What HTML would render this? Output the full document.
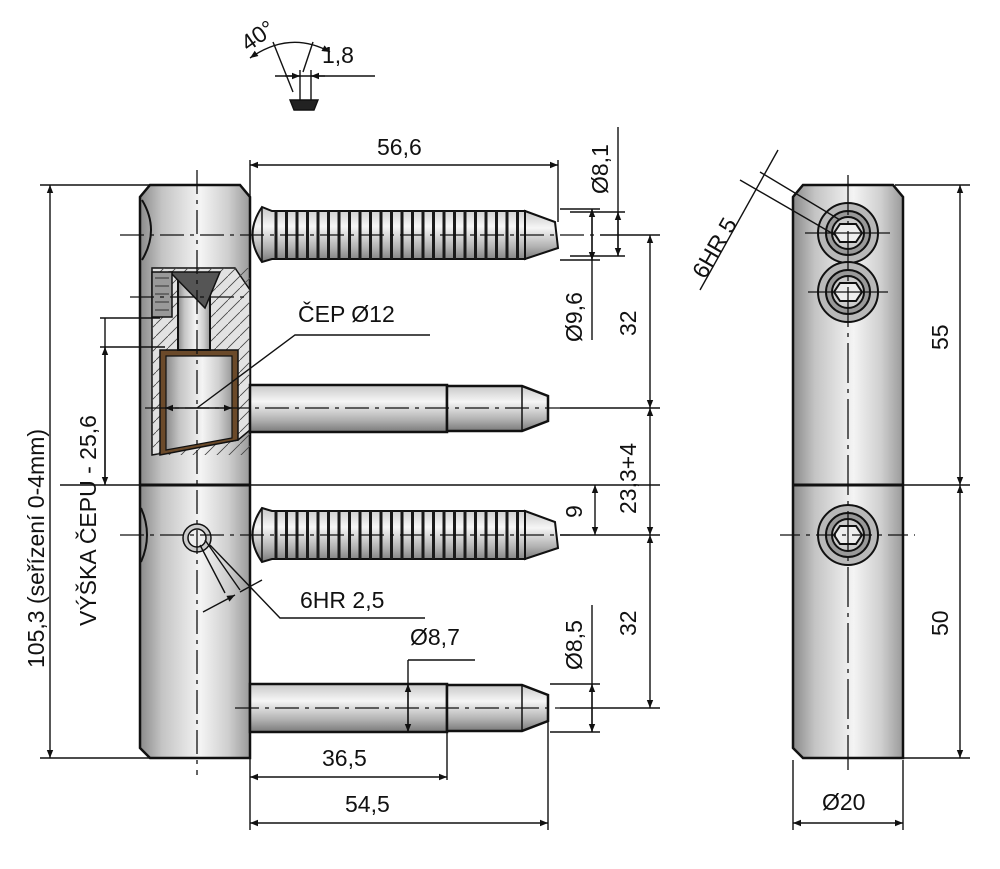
<!DOCTYPE html>
<html><head><meta charset="utf-8"><style>
html,body{margin:0;padding:0;background:#fff}
svg{display:block}
text{font-family:"Liberation Sans",sans-serif;fill:#111}
</style></head><body>
<svg width="1000" height="869" viewBox="0 0 1000 869" xmlns="http://www.w3.org/2000/svg">
<defs>
<linearGradient id="bh" x1="0" x2="1" y1="0" y2="0">
<stop offset="0" stop-color="#8a8a8a"/><stop offset="0.2" stop-color="#c4c4c4"/><stop offset="0.55" stop-color="#f4f4f4"/><stop offset="0.8" stop-color="#cfcfcf"/><stop offset="1" stop-color="#9a9a9a"/>
</linearGradient>
<linearGradient id="pv" x1="0" x2="0" y1="0" y2="1">
<stop offset="0" stop-color="#c8c8c8"/><stop offset="0.35" stop-color="#f6f6f6"/><stop offset="0.75" stop-color="#b0b0b0"/><stop offset="1" stop-color="#7a7a7a"/>
</linearGradient>
<pattern id="thr" width="10.5" height="869" patternUnits="userSpaceOnUse">
<path d="M3 0 L3 869" stroke="#1a1a1a" stroke-width="3"/>
</pattern>
<pattern id="hatch" width="12" height="12" patternUnits="userSpaceOnUse">
<path d="M0 12 L12 0" stroke="#444" stroke-width="0.8"/>
</pattern>
<marker id="a" viewBox="0 0 10 10" refX="10" refY="5" markerWidth="11" markerHeight="8" orient="auto-start-reverse" markerUnits="userSpaceOnUse"><path d="M0 1 L10 5 L0 9z" fill="#111"/></marker>
</defs>
<g stroke="#111" fill="none">

<!-- LEFT BODY -->
<path d="M150 185 L240 185 L250 197 L250 758 L150 758 L140 748 L140 197 Z" fill="url(#bh)" stroke-width="2.5"/>
<line x1="140" y1="485" x2="250" y2="485" stroke-width="3"/>
<path d="M142 200 Q160 230 142 260" stroke-width="2"/>
<path d="M141 508 Q153 535 141 562" stroke-width="2"/>
<!-- section cut -->
<path d="M152 268 L235 268 L250 290 L250 430 L238 440 L152 455 Z" fill="#e2e2e2" stroke-width="1.5"/>
<rect x="152" y="268" width="98" height="187" fill="url(#hatch)" stroke="none"/>
<path d="M160 350 L238 350 L238 440 L160 455 Z" fill="#6b4a2a" stroke-width="1.5"/>
<path d="M166 356 L232 356 L232 438 L166 450 Z" fill="url(#bh)" stroke-width="1.2"/>
<rect x="178" y="275" width="32" height="75" fill="url(#bh)" stroke-width="2"/>
<path d="M170 272 L220 272 L205 308 Z" fill="#555" stroke-width="1.5"/>
<rect x="152" y="272" width="20" height="45" fill="#999" stroke-width="1.5"/>
<path d="M155 278 h14 M155 286 h14 M155 294 h14 M155 302 h14 M155 310 h14" stroke="#333"/>
<!-- hex screw bottom body -->
<circle cx="197" cy="538" r="14" fill="#ccc" stroke-width="1.5"/>
<circle cx="197" cy="538" r="9" fill="#eee" stroke-width="1.5"/>

<!-- SCREW 1 -->
<path d="M262 207 L272 211 L525 211 L525 259 L272 259 L262 262 Q243 235 262 207Z" fill="url(#pv)" stroke-width="2"/>
<rect x="272" y="211" width="250" height="48" fill="url(#thr)" stroke="none"/>
<path d="M525 211 L555 222 L558 248 L525 259 Z" fill="url(#pv)" stroke-width="2"/>
<line x1="262" y1="207" x2="262" y2="262" stroke-width="1.5"/>
<!-- SCREW 2 -->
<path d="M262 508 L272 511 L525 511 L525 559 L272 559 L262 562 Q243 535 262 508Z" fill="url(#pv)" stroke-width="2"/>
<rect x="272" y="511" width="250" height="48" fill="url(#thr)" stroke="none"/>
<path d="M525 511 L555 522 L558 548 L525 559 Z" fill="url(#pv)" stroke-width="2"/>
<line x1="262" y1="508" x2="262" y2="562" stroke-width="1.5"/>
<!-- PIN 2 -->
<rect x="250" y="385" width="197" height="47" fill="url(#pv)" stroke-width="2.5"/>
<path d="M447 386 L522 386 L548 396 L548 421 L522 431 L447 431Z" fill="url(#pv)" stroke-width="2.5"/>
<line x1="522" y1="386" x2="522" y2="431" stroke-width="1.5"/>
<!-- PIN 4 -->
<rect x="250" y="684" width="197" height="48" fill="url(#pv)" stroke-width="2.5"/>
<path d="M447 685 L522 685 L548 695 L548 721 L522 731 L447 731Z" fill="url(#pv)" stroke-width="2.5"/>
<line x1="522" y1="685" x2="522" y2="731" stroke-width="1.5"/>

<!-- centre lines left -->
<g stroke-width="1.3" stroke-dasharray="24 6 4 6">
<line x1="197" y1="170" x2="197" y2="775"/>
<line x1="120" y1="235" x2="600" y2="235"/>
<line x1="130" y1="297" x2="250" y2="297"/>
<line x1="145" y1="408" x2="560" y2="408"/>
<line x1="120" y1="535" x2="570" y2="535"/>
<line x1="235" y1="708" x2="560" y2="708"/>
</g>

<!-- RIGHT BODY -->
<path d="M803 185 L893 185 L903 197 L903 758 L803 758 L793 748 L793 197 Z" fill="url(#bh)" stroke-width="2.5"/>
<line x1="793" y1="485" x2="903" y2="485" stroke-width="3"/>
<g stroke-width="2">
<circle cx="848" cy="233" r="30" fill="#b8b8b8"/><circle cx="848" cy="233" r="22" fill="#999"/><circle cx="848" cy="233" r="16" fill="#ccc"/>
<polygon points="840,224 856,224 862,233 856,242 840,242 834,233" fill="#eee"/>
<circle cx="848" cy="292" r="30" fill="#b8b8b8"/><circle cx="848" cy="292" r="22" fill="#999"/><circle cx="848" cy="292" r="16" fill="#ccc"/>
<polygon points="840,283 856,283 862,292 856,301 840,301 834,292" fill="#eee"/>
<circle cx="848" cy="535" r="30" fill="#b8b8b8"/><circle cx="848" cy="535" r="22" fill="#999"/><circle cx="848" cy="535" r="16" fill="#ccc"/>
<polygon points="840,526 856,526 862,535 856,544 840,544 834,535" fill="#eee"/>
</g>
<g stroke-width="1.3">
<line x1="848" y1="175" x2="848" y2="770" stroke-dasharray="40 6 4 6"/>
<line x1="805" y1="233" x2="890" y2="233"/><line x1="808" y1="292" x2="888" y2="292"/>
<line x1="780" y1="535" x2="915" y2="535" stroke-dasharray="20 6 4 6"/>
</g>

<!-- DIMENSIONS -->
<g stroke-width="1.4">
<line x1="250" y1="160" x2="250" y2="200"/><line x1="558" y1="160" x2="558" y2="222"/>
<line x1="250" y1="165" x2="558" y2="165" marker-start="url(#a)" marker-end="url(#a)"/>
<line x1="560" y1="209" x2="600" y2="209"/><line x1="560" y1="260" x2="600" y2="260"/>
<line x1="592" y1="209" x2="592" y2="340" />
<line x1="592" y1="209" x2="592" y2="260" marker-start="url(#a)" marker-end="url(#a)"/>
<line x1="570" y1="212" x2="625" y2="212"/><line x1="570" y1="256" x2="625" y2="256"/>
<line x1="618" y1="127" x2="618" y2="256"/>
<line x1="618" y1="212" x2="618" y2="256" marker-start="url(#a)" marker-end="url(#a)"/>
<line x1="600" y1="235" x2="660" y2="235"/><line x1="560" y1="408" x2="660" y2="408"/>
<line x1="560" y1="535" x2="660" y2="535"/><line x1="560" y1="708" x2="660" y2="708"/>
<line x1="650" y1="235" x2="650" y2="408" marker-start="url(#a)" marker-end="url(#a)"/>
<line x1="650" y1="408" x2="650" y2="535" marker-start="url(#a)" marker-end="url(#a)"/>
<line x1="650" y1="535" x2="650" y2="708" marker-start="url(#a)" marker-end="url(#a)"/>
<line x1="250" y1="485" x2="660" y2="485"/>
<line x1="595" y1="485" x2="595" y2="535" marker-start="url(#a)" marker-end="url(#a)"/>
<line x1="550" y1="684" x2="600" y2="684"/><line x1="550" y1="732" x2="600" y2="732"/>
<line x1="592" y1="605" x2="592" y2="732"/>
<line x1="592" y1="684" x2="592" y2="732" marker-start="url(#a)" marker-end="url(#a)"/>
<path d="M408 660 L475 660"/>
<line x1="408" y1="660" x2="408" y2="732"/>
<line x1="408" y1="684" x2="408" y2="732" marker-start="url(#a)" marker-end="url(#a)"/>
<line x1="250" y1="735" x2="250" y2="830"/><line x1="447" y1="732" x2="447" y2="780"/><line x1="548" y1="722" x2="548" y2="830"/>
<line x1="250" y1="777" x2="447" y2="777" marker-start="url(#a)" marker-end="url(#a)"/>
<line x1="250" y1="823" x2="548" y2="823" marker-start="url(#a)" marker-end="url(#a)"/>
<line x1="40" y1="185" x2="150" y2="185"/><line x1="40" y1="758" x2="150" y2="758"/>
<line x1="50" y1="185" x2="50" y2="758" marker-start="url(#a)" marker-end="url(#a)"/>
<line x1="100" y1="318" x2="160" y2="318"/>
<line x1="100" y1="347" x2="165" y2="347"/>
<line x1="105" y1="318" x2="105" y2="485" marker-end="url(#a)"/>
<line x1="105" y1="347" x2="105" y2="485" marker-start="url(#a)"/>
<line x1="60" y1="485" x2="140" y2="485"/>
<line x1="165" y1="408" x2="232" y2="408" marker-start="url(#a)" marker-end="url(#a)"/>
<path d="M197 408 L295 335 L430 335"/>
<path d="M200 545 L225 593 M205 540 L240 590 M210 545 L280 618 L425 618"/>
<line x1="203" y1="612" x2="235" y2="595" marker-end="url(#a)"/>
<line x1="262" y1="580" x2="240" y2="592"/>
<line x1="895" y1="185" x2="970" y2="185"/><line x1="903" y1="485" x2="970" y2="485"/><line x1="895" y1="758" x2="970" y2="758"/>
<line x1="960" y1="185" x2="960" y2="485" marker-start="url(#a)" marker-end="url(#a)"/>
<line x1="960" y1="485" x2="960" y2="758" marker-start="url(#a)" marker-end="url(#a)"/>
<line x1="793" y1="760" x2="793" y2="830"/><line x1="903" y1="760" x2="903" y2="830"/>
<line x1="793" y1="823" x2="903" y2="823" marker-start="url(#a)" marker-end="url(#a)"/>
<line x1="700" y1="290" x2="778" y2="150"/>
<line x1="740" y1="180" x2="835" y2="235"/><line x1="760" y1="172" x2="840" y2="220"/>
<path d="M250 58 Q290 30 330 52" marker-start="url(#a)" marker-end="url(#a)"/>
<line x1="273" y1="42" x2="293" y2="92"/><line x1="313" y1="42" x2="303" y2="72"/>
<line x1="275" y1="76" x2="375" y2="76"/>
<line x1="300" y1="70" x2="300" y2="100"/><line x1="311" y1="70" x2="311" y2="100"/>
<line x1="285" y1="76" x2="300" y2="76" marker-end="url(#a)"/><line x1="325" y1="76" x2="311" y2="76" marker-end="url(#a)"/>
<path d="M290 100 L318 100 L314 110 L294 110Z" fill="#222"/>
</g>
</g>

<g font-size="23">
<text x="377" y="155">56,6</text>
<text x="298" y="322">ČEP Ø12</text>
<text x="300" y="608">6HR 2,5</text>
<text x="410" y="645">Ø8,7</text>
<text x="322" y="766">36,5</text>
<text x="345" y="812">54,5</text>
<text x="822" y="810">Ø20</text>
<text x="322" y="63">1,8</text>
<text transform="translate(248,52) rotate(-35)">40°</text>
<text transform="translate(608,194) rotate(-90)">Ø8,1</text>
<text transform="translate(582,342) rotate(-90)">Ø9,6</text>
<text transform="translate(636,336) rotate(-90)">32</text>
<text transform="translate(636,514) rotate(-90)">23,3+4</text>
<text transform="translate(582,518) rotate(-90)">9</text>
<text transform="translate(636,636) rotate(-90)">32</text>
<text transform="translate(582,670) rotate(-90)">Ø8,5</text>
<text transform="translate(948,350) rotate(-90)">55</text>
<text transform="translate(948,636) rotate(-90)">50</text>
<text transform="translate(44,668) rotate(-90)">105,3 (seřízení 0-4mm)</text>
<text transform="translate(96,626) rotate(-90)">VÝŠKA ČEPU - 25,6</text>
<text transform="translate(705,280) rotate(-60)">6HR 5</text>
</g>
</svg>
</body></html>
